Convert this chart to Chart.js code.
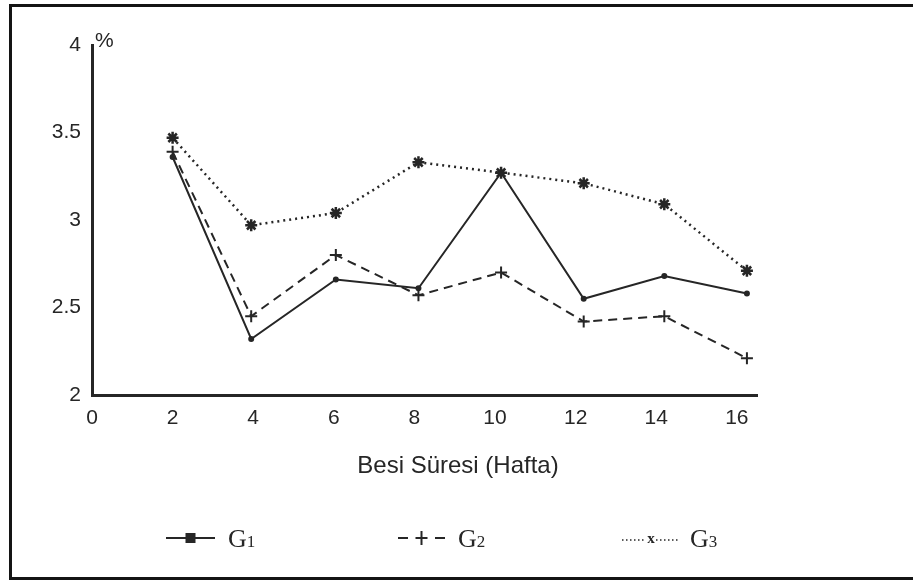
<!DOCTYPE html>
<html>
<head>
<meta charset="utf-8">
<script src="https://cdn.jsdelivr.net/npm/chart.js@4"></script>
<style>
  body { margin: 0; background: #fff; }
  #wrap { position: relative; width: 913px; height: 581px; overflow: hidden; background: #fff; }
  #frame { position: absolute; left: 9px; top: 4px; width: 920px; height: 570px; border: 3px solid #141414; border-right: none; }
  canvas { position: absolute; left: 0; top: 0; }
</style>
</head>
<body>
<div id="wrap">
  <div id="frame"></div>
  <canvas id="chart" width="913" height="581"></canvas>
</div>
<script>
// weeks as plotted (points sit slightly right of the ticks in the scan)
var weeks = [2, 3.95, 6.05, 8.1, 10.15, 12.2, 14.2, 16.25];
var g1 = [3.36, 2.32, 2.66, 2.61, 3.27, 2.55, 2.68, 2.58];
var g2 = [3.39, 2.45, 2.80, 2.57, 2.70, 2.42, 2.45, 2.21];
var g3 = [3.47, 2.97, 3.04, 3.33, 3.27, 3.21, 3.09, 2.71];
var seriesNames = ["G1", "G2", "G3"];
var xTicks = [0, 2, 4, 6, 8, 10, 12, 14, 16];
var yTicks = [2, 2.5, 3, 3.5, 4];
var xTitle = "Besi Süresi (Hafta)";

var ink = "#262626";
var sans = "'Liberation Sans', Arial, sans-serif";

toPoints = (vals) => vals.map((v, i) => ({ x: weeks[i], y: v }));

// "%" next to the top of the y axis, axis title under the tick labels
var axisTexts = {
  id: "axisTexts",
  afterDraw(chart) {
    const ctx = chart.ctx;
    const area = chart.chartArea;
    ctx.save();
    ctx.fillStyle = ink;
    ctx.textBaseline = "middle";
    ctx.font = "21px " + sans;
    ctx.fillText("%", area.left + 3, area.top - 4);
    ctx.font = "24px " + sans;
    ctx.textAlign = "center";
    ctx.fillText(xTitle, 458, 466);
    ctx.restore();
  },
};

// legend row: line-marker-line then the label with a subscript
var bottomLegend = {
  id: "bottomLegend",
  afterDraw(chart) {
    const ctx = chart.ctx;
    const y = 538;
    const items = [
      { x0: 166, x1: 215, tx: 228 },
      { x0: 398, x1: 445, tx: 458 },
      { x0: 622, x1: 680, tx: 690 },
    ];
    ctx.save();
    ctx.strokeStyle = ink;
    ctx.fillStyle = ink;
    items.forEach((it, i) => {
      const mid = (it.x0 + it.x1) / 2;
      ctx.lineWidth = 2;
      if (i === 0) {
        ctx.setLineDash([]);
        ctx.beginPath();
        ctx.moveTo(it.x0, y);
        ctx.lineTo(it.x1, y);
        ctx.stroke();
        ctx.fillRect(mid - 5, y - 5, 10, 10);
      } else if (i === 1) {
        ctx.setLineDash([]);
        ctx.beginPath();
        ctx.moveTo(it.x0, y); ctx.lineTo(it.x0 + 10, y);
        ctx.moveTo(it.x1 - 10, y); ctx.lineTo(it.x1, y);
        ctx.moveTo(mid - 6, y); ctx.lineTo(mid + 6, y);
        ctx.moveTo(mid, y - 7); ctx.lineTo(mid, y + 7);
        ctx.stroke();
      } else {
        ctx.setLineDash([1.5, 2.5]);
        ctx.lineWidth = 1.5;
        ctx.beginPath();
        ctx.moveTo(it.x0, y + 2); ctx.lineTo(mid - 5, y + 2);
        ctx.moveTo(mid + 5, y + 2); ctx.lineTo(it.x1, y + 2);
        ctx.stroke();
        ctx.setLineDash([]);
        ctx.font = "bold 15px 'Liberation Serif', serif";
        ctx.textAlign = "center";
        ctx.textBaseline = "alphabetic";
        ctx.fillText("x", mid, y + 5);
      }
      ctx.textAlign = "left";
      ctx.textBaseline = "alphabetic";
      ctx.font = "26px 'Liberation Serif', 'DejaVu Serif', serif";
      ctx.fillText(seriesNames[i].charAt(0), it.tx, y + 9);
      const w = ctx.measureText(seriesNames[i].charAt(0)).width;
      ctx.font = "17px 'Liberation Serif', 'DejaVu Serif', serif";
      ctx.fillText(seriesNames[i].slice(1), it.tx + w, y + 9);
    });
    ctx.restore();
  },
};

var ctx = document.getElementById("chart").getContext("2d");
var chart = new Chart(ctx, {
  type: "line",
  data: {
    datasets: [
      {
        label: seriesNames[0],
        data: toPoints(g1),
        borderColor: ink,
        backgroundColor: ink,
        borderWidth: 2,
        pointStyle: "circle",
        pointRadius: 2,
        tension: 0,
      },
      {
        label: seriesNames[1],
        data: toPoints(g2),
        borderColor: ink,
        backgroundColor: ink,
        borderWidth: 2,
        borderDash: [9, 6],
        pointStyle: "cross",
        pointRadius: 6,
        pointBorderWidth: 2,
        tension: 0,
      },
      {
        label: seriesNames[2],
        data: toPoints(g3),
        borderColor: ink,
        backgroundColor: ink,
        borderWidth: 2.5,
        borderDash: [2, 4],
        pointStyle: "star",
        pointRadius: 6,
        pointBorderWidth: 2.5,
        tension: 0,
      },
    ],
  },
  options: {
    responsive: false,
    animation: false,
    layout: { padding: { left: 0, top: 45, right: 156, bottom: 0 } },
    plugins: {
      legend: { display: false },
      tooltip: { enabled: false },
    },
    scales: {
      x: {
        type: "linear",
        min: 0,
        max: 16.5,
        afterBuildTicks: (s) => { s.ticks = xTicks.map((v) => ({ value: v })); },
        afterFit: (s) => { s.height = 186; },
        grid: { display: false, drawTicks: false },
        border: { display: true, color: ink, width: 3 },
        ticks: {
          color: ink,
          padding: 11,
          maxRotation: 0,
          callback: (v) => String(v),
          font: { family: sans, size: 21 },
        },
      },
      y: {
        type: "linear",
        min: 2,
        max: 4,
        afterBuildTicks: (s) => { s.ticks = yTicks.map((v) => ({ value: v })); },
        afterFit: (s) => { s.width = 92; },
        grid: { display: false, drawTicks: false },
        border: { display: true, color: ink, width: 3 },
        ticks: {
          color: ink,
          padding: 11,
          callback: (v) => String(v),
          font: { family: sans, size: 21 },
        },
      },
    },
  },
  plugins: [axisTexts, bottomLegend],
});
</script>
</body>
</html>
